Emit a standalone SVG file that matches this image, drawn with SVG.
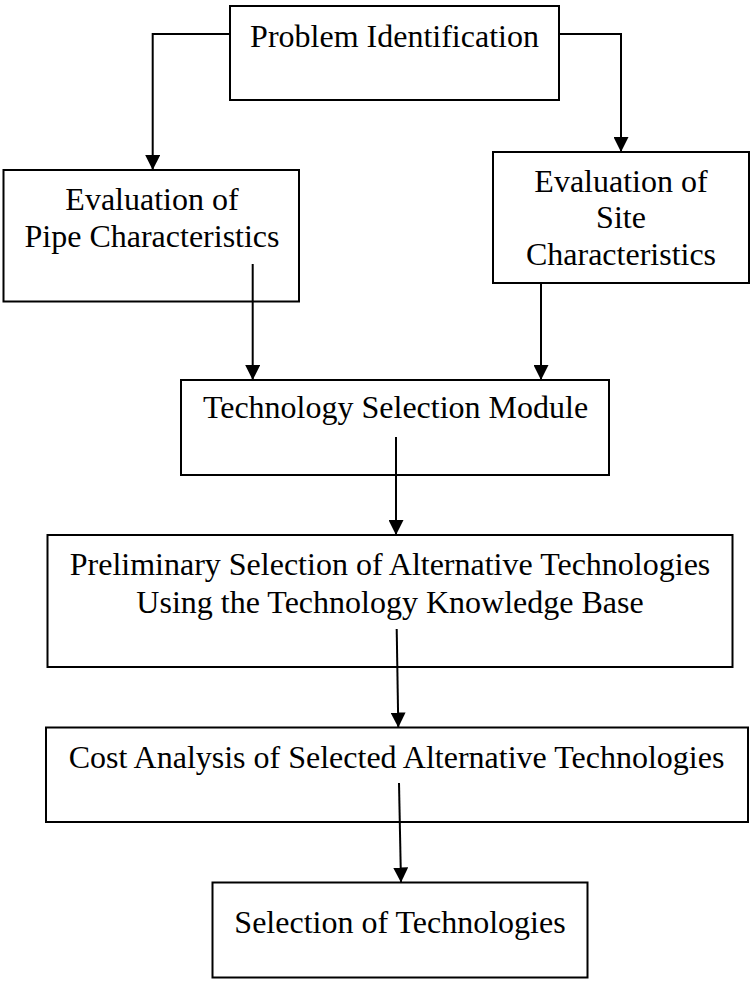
<svg xmlns="http://www.w3.org/2000/svg" width="751" height="981" viewBox="0 0 751 981">
  <style>
    .box { fill: #ffffff; stroke: #000000; stroke-width: 2; }
    .lbl { font-family: "Liberation Serif", "Times New Roman", serif; font-size: 32px; fill: #000000; text-anchor: middle; }
    .wire { fill: none; stroke: #000000; stroke-width: 2; }
  </style>
  <defs>
    <marker id="head" markerUnits="userSpaceOnUse" viewBox="0 0 15 15" markerWidth="15" markerHeight="15" refX="15" refY="7.5" orient="auto">
      <path d="M0,0 L15,7.5 L0,15 Z" fill="#000000"/>
    </marker>
  </defs>

  <rect width="751" height="981" fill="#ffffff"/>

  <!-- process steps -->
  <g id="problem-identification">
    <rect class="box" x="230" y="6" width="329" height="94"/>
    <text class="lbl" x="394.5" y="47">Problem Identification</text>
  </g>

  <g id="pipe-characteristics">
    <rect class="box" x="3.5" y="170" width="295.5" height="131.5"/>
    <text class="lbl" x="152" y="210">Evaluation of</text>
    <text class="lbl" x="152" y="247">Pipe Characteristics</text>
  </g>

  <g id="site-characteristics">
    <rect class="box" x="493" y="152" width="256" height="131"/>
    <text class="lbl" x="621" y="192">Evaluation of</text>
    <text class="lbl" x="621" y="228">Site</text>
    <text class="lbl" x="621" y="265">Characteristics</text>
  </g>

  <g id="technology-selection-module">
    <rect class="box" x="181" y="380" width="428" height="95"/>
    <text class="lbl" x="395.5" y="418">Technology Selection Module</text>
  </g>

  <g id="preliminary-selection">
    <rect class="box" x="47.5" y="535" width="685" height="132"/>
    <text class="lbl" x="390" y="575">Preliminary Selection of Alternative Technologies</text>
    <text class="lbl" x="390" y="613">Using the Technology Knowledge Base</text>
  </g>

  <g id="cost-analysis">
    <rect class="box" x="46" y="727.5" width="702" height="94.5"/>
    <text class="lbl" x="396.5" y="768">Cost Analysis of Selected Alternative Technologies</text>
  </g>

  <g id="selection-of-technologies">
    <rect class="box" x="212.5" y="882.5" width="375" height="95"/>
    <text class="lbl" x="400" y="933">Selection of Technologies</text>
  </g>

  <!-- flow connectors -->
  <g id="connectors">
    <polyline class="wire" points="230,34 152.7,34 152.7,170" marker-end="url(#head)"/>
    <polyline class="wire" points="559,34 621,34 621,152" marker-end="url(#head)"/>
    <line class="wire" x1="252.7" y1="264" x2="252.7" y2="380" marker-end="url(#head)"/>
    <line class="wire" x1="541" y1="283" x2="541" y2="380" marker-end="url(#head)"/>
    <line class="wire" x1="396" y1="437" x2="396" y2="535" marker-end="url(#head)"/>
    <line class="wire" x1="396.7" y1="629" x2="398.3" y2="727.5" marker-end="url(#head)"/>
    <line class="wire" x1="399" y1="783" x2="401" y2="882.5" marker-end="url(#head)"/>
  </g>
</svg>
